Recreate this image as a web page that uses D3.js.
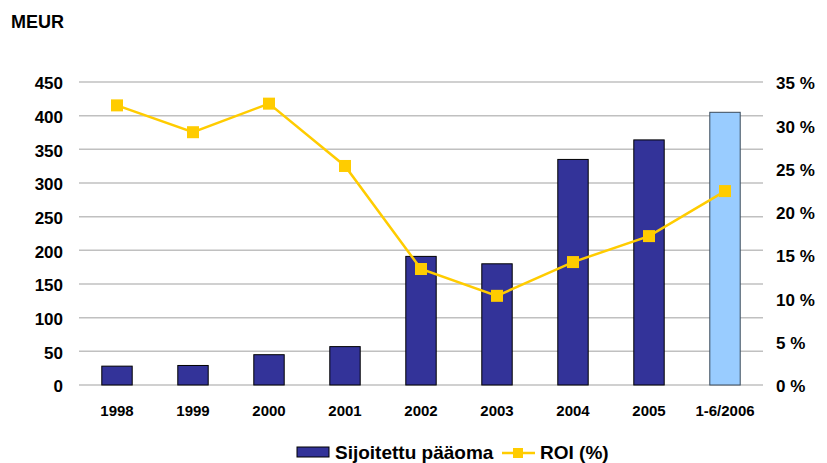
<!DOCTYPE html>
<html>
<head>
<meta charset="utf-8">
<script src="https://cdnjs.cloudflare.com/ajax/libs/d3/7.8.5/d3.min.js"></script>
<style>
  body { margin: 0; background: #fff; }
  text { font-family: "Liberation Sans", Arial, sans-serif; font-weight: bold; fill: #000; }
</style>
</head>
<body>
<script>
// data
const years = ["1998", "1999", "2000", "2001", "2002", "2003", "2004", "2005", "1-6/2006"];
const capital = [28, 29, 45, 57, 191, 180, 335, 364, 405];   // MEUR
const roi = [32.3, 29.2, 32.5, 25.3, 13.4, 10.3, 14.2, 17.2, 22.4]; // %
const leftTicks = [0, 50, 100, 150, 200, 250, 300, 350, 400, 450];
const rightTicks = [0, 5, 10, 15, 20, 25, 30, 35];

const W = 827, H = 463;
const margin = {top: 82, left: 79, right: 64, bottom: 78};
const innerW = W - margin.left - margin.right;
const innerH = H - margin.top - margin.bottom;

const svg = d3.select("body").append("svg")
    .attr("width", W)
    .attr("height", H);

const g = svg.append("g")
    .attr("transform", `translate(${margin.left},${margin.top})`);

const x = d3.scaleBand().domain(years).range([0, innerW]).paddingInner(0.6).paddingOuter(0.3);
const y = d3.scaleLinear().domain([0, 450]).range([innerH, 0]);
const y2 = d3.scaleLinear().domain([0, 35]).range([innerH, 0]);

// grid lines from the left axis
g.append("g")
    .selectAll("line").data(leftTicks).enter().append("line")
    .attr("x1", 0).attr("x2", innerW)
    .attr("y1", d => y(d)).attr("y2", d => y(d))
    .attr("stroke", "#c0c0c0")
    .attr("stroke-width", 1.5);

// left axis labels
const yAxis = d3.axisLeft(y).tickValues(leftTicks).tickSize(0).tickPadding(16);
g.append("g").call(yAxis)
    .call(a => a.select(".domain").remove())
    .attr("font-size", 17)
    .selectAll("text").attr("dy", "0.4em");

// right axis labels
const yAxis2 = d3.axisRight(y2).tickValues(rightTicks).tickSize(0).tickPadding(13)
    .tickFormat(d => d + " %");
g.append("g").call(yAxis2)
    .attr("transform", `translate(${innerW},0)`)
    .call(a => a.select(".domain").remove())
    .attr("font-size", 17)
    .selectAll("text").attr("dy", "0.4em");

// x axis labels
const xAxis = d3.axisBottom(x).tickSize(0).tickPadding(20);
g.append("g").call(xAxis)
    .attr("transform", `translate(0,${innerH})`)
    .call(a => a.select(".domain").remove())
    .attr("font-size", 15);

// bars
g.selectAll(".bar").data(capital).enter().append("rect")
    .attr("class", "bar")
    .attr("x", (d, i) => x(years[i]))
    .attr("width", x.bandwidth())
    .attr("y", d => y(d))
    .attr("height", d => innerH - y(d))
    .attr("fill", (d, i) => i === years.length - 1 ? "#99ccff" : "#333399")
    .attr("stroke", (d, i) => i === years.length - 1 ? "#3a4a5a" : "#000")
    .attr("stroke-width", 1);

// ROI line
const line = d3.line()
    .x((d, i) => x(years[i]) + x.bandwidth() / 2)
    .y(d => y2(d));

g.append("path")
    .datum(roi)
    .attr("d", line)
    .attr("fill", "none")
    .attr("stroke", "#ffcc00")
    .attr("stroke-width", 2.5);

g.selectAll(".pt").data(roi).enter().append("rect")
    .attr("class", "pt")
    .attr("x", (d, i) => x(years[i]) + x.bandwidth() / 2 - 6)
    .attr("y", d => y2(d) - 6)
    .attr("width", 12)
    .attr("height", 12)
    .attr("fill", "#ffcc00");

// unit label
svg.append("text")
    .attr("x", 11)
    .attr("y", 28)
    .attr("font-size", 18)
    .text("MEUR");

// legend
const leg = svg.append("g").attr("transform", "translate(297,452)");
leg.append("rect")
    .attr("x", 0).attr("y", -5)
    .attr("width", 32).attr("height", 10)
    .attr("fill", "#333399")
    .attr("stroke", "#000");
leg.append("text")
    .attr("x", 38).attr("y", 7)
    .attr("font-size", 19)
    .text("Sijoitettu pääoma");
leg.append("line")
    .attr("x1", 205).attr("x2", 238)
    .attr("y1", 1).attr("y2", 1)
    .attr("stroke", "#ffcc00").attr("stroke-width", 2.5);
leg.append("rect")
    .attr("x", 216).attr("y", -4)
    .attr("width", 10).attr("height", 10)
    .attr("fill", "#ffcc00");
leg.append("text")
    .attr("x", 243).attr("y", 7)
    .attr("font-size", 19)
    .text("ROI (%)");
</script>
</body>
</html>
